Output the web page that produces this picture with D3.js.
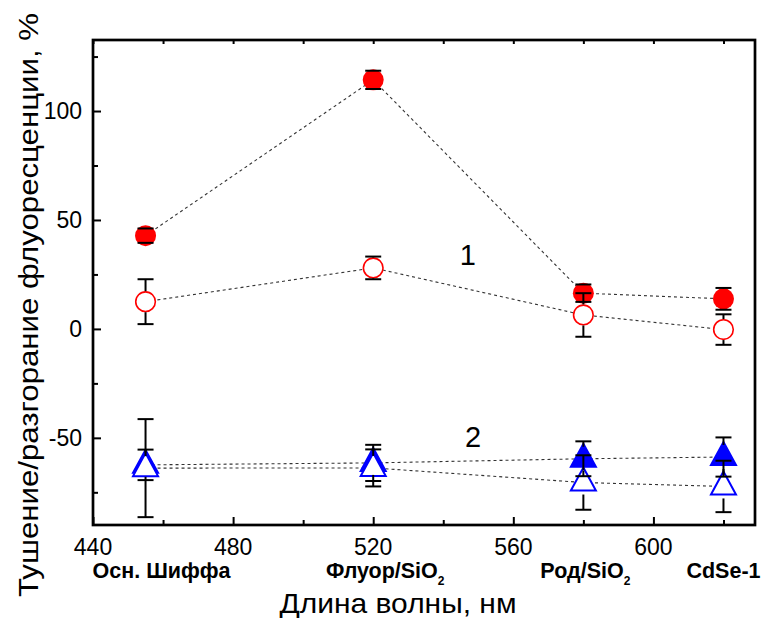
<!DOCTYPE html>
<html>
<head>
<meta charset="utf-8">
<script src="https://cdn.jsdelivr.net/npm/d3@7"></script>
<style>
  body { margin: 0; background: #fff; }
  text { font-family: Arial, "Liberation Sans", sans-serif; fill: #000; }
</style>
</head>
<body>
<script>
// data
var wavelengths = [455, 520, 580, 620];
var catLabels = ["Осн. Шиффа", "Флуор/SiO", "Род/SiO", "CdSe-1"];
var catSubs = ["", "2", "2", ""];

var filledCircle = [42.8, 114.3, 16.4, 13.8];
var filledCircleErr = [3.3, 4.2, 4, 5];
var openCircle = [12.5, 28, 6.4, -0.3];
var openCircleErr = [10.3, 5.2, 10, 7];
var filledTri = [-62.4, -61.5, -59.6, -58.8];
var filledTriErr = [7, 8.3, 8, 9];
var openTri = [-63.9, -63.8, -70.5, -72.3];
var openTriErr = [22.5, 8.5, 12.5, 11.8];

var xTicks = [440, 480, 520, 560, 600];
var yTicks = [-50, 0, 50, 100];

var width = 763, height = 618;
var margin = {top: 40, right: 8, bottom: 93, left: 93};
var w = width - margin.left - margin.right;
var h = height - margin.top - margin.bottom;

var svg = d3.select("body").append("svg")
    .attr("width", width)
    .attr("height", height);

var g = svg.append("g")
    .attr("transform", `translate(${margin.left}, ${margin.top})`);

var x = d3.scaleLinear().domain([440, 629]).range([0, w]);
var y = d3.scaleLinear().domain([-90, 132.6]).range([h, 0]);

// ticks (inside the frame)
g.append("g")
    .attr("transform", `translate(0, ${h})`)
    .call(d3.axisBottom(x).tickValues(d3.range(440, 629, 40)).tickSize(-8).tickFormat(""))
    .call(a => a.select(".domain").remove());
g.append("g")
    .attr("transform", `translate(0, ${h})`)
    .call(d3.axisBottom(x).tickValues(d3.range(460, 629, 40)).tickSize(-5).tickFormat(""))
    .call(a => a.select(".domain").remove());
g.append("g")
    .call(d3.axisTop(x).tickValues(d3.range(440, 629, 20)).tickSize(-4).tickFormat(""))
    .call(a => a.select(".domain").remove());
g.append("g")
    .call(d3.axisLeft(y).tickValues(yTicks).tickSize(-8).tickFormat(""))
    .call(a => a.select(".domain").remove());
g.append("g")
    .call(d3.axisLeft(y).tickValues([-75, -25, 25, 75, 125]).tickSize(-5).tickFormat(""))
    .call(a => a.select(".domain").remove());
g.selectAll(".tick line").attr("stroke", "#000").attr("stroke-width", 2);

// tick labels
g.selectAll(".xlab").data(xTicks).enter().append("text")
    .attr("x", d => x(d))
    .attr("y", h + 30)
    .attr("text-anchor", "middle")
    .style("font-size", "23px")
    .text(d => d);
g.selectAll(".ylab").data(yTicks).enter().append("text")
    .attr("x", -11)
    .attr("y", d => y(d) + 8)
    .attr("text-anchor", "end")
    .style("font-size", "23px")
    .text(d => d);

// category labels under the axis
var labelDx = [16, 12, 2, 0];
var cat = g.selectAll(".cat").data(wavelengths).enter().append("text")
    .attr("x", (d, i) => x(d) + labelDx[i])
    .attr("y", h + 53)
    .attr("text-anchor", "middle")
    .style("font-size", "21.5px")
    .style("font-weight", "bold");
cat.append("tspan").text((d, i) => catLabels[i]);
cat.append("tspan")
    .attr("dy", 7)
    .style("font-size", "12px")
    .text((d, i) => catSubs[i]);

// axis titles
svg.append("text")
    .attr("x", 398)
    .attr("y", 613)
    .attr("text-anchor", "middle")
    .attr("textLength", 237)
    .attr("lengthAdjust", "spacingAndGlyphs")
    .style("font-size", "28px")
    .text("Длина волны, нм");
svg.append("text")
    .attr("transform", "translate(38, 305) rotate(-90)")
    .attr("text-anchor", "middle")
    .attr("textLength", 584)
    .attr("lengthAdjust", "spacingAndGlyphs")
    .style("font-size", "28px")
    .text("Тушение/разгорание флуоресценции, %");

// dashed connecting lines
var line = d3.line().x(d => x(d[0])).y(d => y(d[1]));
[filledCircle, openCircle, filledTri, openTri].forEach(function(s) {
  g.append("path")
    .attr("d", line(wavelengths.map((wl, i) => [wl, s[i]])))
    .attr("fill", "none")
    .attr("stroke", "#333")
    .attr("stroke-width", 1.1)
    .attr("stroke-dasharray", "3,3");
});

var triPath = "M0,-15L12.5,8L-12.5,8Z";

function drawTri(vals, fill) {
  g.selectAll(null).data(vals).enter().append("path")
    .attr("d", triPath)
    .attr("transform", (d, i) => `translate(${x(wavelengths[i])}, ${y(d)})`)
    .attr("fill", fill ? "#0000ff" : "#fff")
    .attr("stroke", "#0000ff")
    .attr("stroke-width", 2);
}
function drawCircle(vals, fill) {
  g.selectAll(null).data(vals).enter().append("circle")
    .attr("cx", (d, i) => x(wavelengths[i]))
    .attr("cy", d => y(d))
    .attr("r", fill ? 10.5 : 9.8)
    .attr("fill", fill ? "#ff0000" : "#fff")
    .attr("stroke", "#ff0000")
    .attr("stroke-width", fill ? 0 : 1.6);
}

drawTri(filledTri, true);
drawTri(openTri, false);
drawCircle(filledCircle, true);
drawCircle(openCircle, false);

// error bars, the stem stops at the symbol edge
function drawErr(vals, errs, gap) {
  vals.forEach(function(v, i) {
    var cx = x(wavelengths[i]);
    var top = y(v + errs[i]), bot = y(v - errs[i]), c = y(v);
    var eb = g.append("g").attr("stroke", "#000").attr("stroke-width", 2);
    if (c - top > gap) eb.append("line").attr("x1", cx).attr("x2", cx).attr("y1", top).attr("y2", c - gap);
    if (bot - c > gap) eb.append("line").attr("x1", cx).attr("x2", cx).attr("y1", c + gap).attr("y2", bot);
    [top, bot].forEach(function(yy) {
      eb.append("line").attr("x1", cx - 8).attr("x2", cx + 8).attr("y1", yy).attr("y2", yy);
    });
  });
}
drawErr(filledCircle, filledCircleErr, 10.5);
drawErr(openCircle, openCircleErr, 10.5);
drawErr(filledTri, filledTriErr, 12);
drawErr(openTri, openTriErr, 12);

// series numbers
g.append("text").attr("x", x(547)).attr("y", y(29.5))
    .attr("text-anchor", "middle").style("font-size", "29px").text("1");
g.append("text").attr("x", x(548.5)).attr("y", y(-54))
    .attr("text-anchor", "middle").style("font-size", "29px").text("2");

// frame
g.append("rect")
    .attr("width", w)
    .attr("height", h)
    .attr("fill", "none")
    .attr("stroke", "#000")
    .attr("stroke-width", 2.7);
</script>
</body>
</html>
